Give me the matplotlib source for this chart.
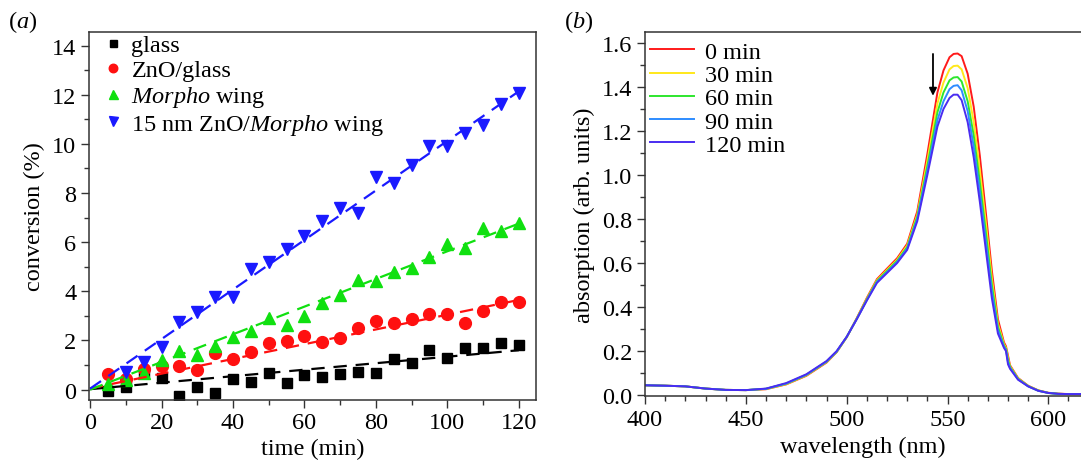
import matplotlib
matplotlib.use("Agg")
import matplotlib.pyplot as plt
import numpy as np
from matplotlib.ticker import MultipleLocator

plt.rcParams['font.family'] = ['Liberation Serif', 'DejaVu Serif']
plt.rcParams['mathtext.fontset'] = 'custom'
plt.rcParams['mathtext.rm'] = 'Liberation Serif'
plt.rcParams['mathtext.it'] = 'Liberation Serif:italic'

# ---------------- panel (a) data ----------------
t_all = [5, 10, 15, 20, 25, 30, 35, 40, 45, 50, 55, 60, 65, 70, 75, 80, 85, 90,
         95, 100, 105, 110, 115, 120]
glass = [-0.04, 0.10, 0.70, 0.47, -0.24, 0.10, -0.13, 0.43, 0.30, 0.68, 0.26, 0.61,
         0.50, 0.64, 0.73, 0.68, 1.25, 1.09, 1.61, 1.27, 1.69, 1.69, 1.88, 1.80]
zno_glass = [0.62, 0.45, 0.84, 0.98, 0.98, 0.81, 1.48, 1.25, 1.52, 1.88, 1.99, 2.17,
             1.95, 2.10, 2.49, 2.81, 2.71, 2.87, 3.08, 3.08, 2.70, 3.21, 3.58, 3.55]
morpho = [0.23, 0.40, 0.69, 1.21, 1.59, 1.41, 1.79, 2.15, 2.37, 2.91, 2.63, 2.98,
          3.51, 3.85, 4.46, 4.43, 4.77, 4.93, 5.38, 5.92, 5.75, 6.56, 6.46, 6.80]
t_blue = [10, 15, 20, 25, 30, 35, 40, 45, 50, 55, 60, 65, 70, 75, 80, 85, 90,
          95, 100, 105, 110, 115, 120]
zno_morpho = [0.70, 1.11, 1.72, 2.74, 3.17, 3.78, 3.78, 4.91, 5.18, 5.72, 6.26, 6.87,
              7.41, 7.18, 8.67, 8.40, 9.15, 9.92, 9.92, 10.46, 10.76, 11.64, 12.06]

series_labels = ['glass', 'ZnO/glass', r'$\it{Morpho}$ wing', r'15 nm ZnO/$\it{Morpho}$ wing']
fit_intercept = [0.02, 0.05, 0.00, 0.04]
fit_slope = [0.0132, 0.0300, 0.0563, 0.1008]
fit_range = [0, 120]

# ---------------- panel (b) data ----------------
wl = [400, 410, 420, 430, 440, 450, 460, 470, 480, 490, 495, 500, 505, 510, 515,
      520, 525, 530, 535, 540, 545, 548, 551, 553, 555, 557, 560, 563, 566, 569,
      572, 575, 578, 579, 580, 581, 585, 590, 595, 600, 605, 610, 617]
abs_0 = [0.045, 0.043, 0.040, 0.030, 0.024, 0.023, 0.027, 0.049, 0.088, 0.148, 0.195,
         0.263, 0.350, 0.442, 0.527, 0.575, 0.622, 0.688, 0.835, 1.095, 1.375, 1.475,
         1.535, 1.550, 1.552, 1.540, 1.460, 1.310, 1.090, 0.830, 0.565, 0.345, 0.240,
         0.222, 0.180, 0.136, 0.078, 0.043, 0.022, 0.011, 0.007, 0.005, 0.005]
abs_30 = [0.045, 0.043, 0.040, 0.030, 0.024, 0.023, 0.028, 0.050, 0.090, 0.150, 0.196,
          0.264, 0.348, 0.438, 0.522, 0.569, 0.615, 0.680, 0.820, 1.065, 1.325, 1.420,
          1.480, 1.495, 1.497, 1.480, 1.395, 1.240, 1.025, 0.785, 0.530, 0.325, 0.232,
          0.215, 0.170, 0.132, 0.076, 0.042, 0.021, 0.010, 0.006, 0.005, 0.005]
abs_60 = [0.045, 0.043, 0.040, 0.030, 0.024, 0.023, 0.029, 0.052, 0.092, 0.152, 0.197,
          0.264, 0.347, 0.435, 0.518, 0.564, 0.610, 0.672, 0.810, 1.040, 1.285, 1.375,
          1.430, 1.443, 1.445, 1.425, 1.335, 1.180, 0.970, 0.740, 0.500, 0.310, 0.225,
          0.210, 0.160, 0.128, 0.074, 0.041, 0.021, 0.010, 0.006, 0.005, 0.005]
abs_90 = [0.045, 0.043, 0.040, 0.030, 0.024, 0.023, 0.029, 0.053, 0.093, 0.153, 0.198,
          0.265, 0.346, 0.432, 0.514, 0.559, 0.605, 0.666, 0.800, 1.020, 1.250, 1.335,
          1.390, 1.405, 1.408, 1.385, 1.290, 1.130, 0.925, 0.700, 0.470, 0.295, 0.220,
          0.205, 0.150, 0.124, 0.072, 0.040, 0.020, 0.010, 0.006, 0.005, 0.005]
abs_120 = [0.045, 0.043, 0.040, 0.030, 0.024, 0.023, 0.030, 0.055, 0.095, 0.155, 0.200,
           0.265, 0.345, 0.430, 0.510, 0.555, 0.600, 0.660, 0.790, 1.000, 1.220, 1.300,
           1.350, 1.365, 1.365, 1.340, 1.240, 1.080, 0.880, 0.660, 0.440, 0.280, 0.215,
           0.200, 0.140, 0.120, 0.070, 0.040, 0.020, 0.010, 0.006, 0.005, 0.005]
spec_labels = ['0 min', '30 min', '60 min', '90 min', '120 min']
spec_colors = ['#ff1a1a', '#ffe81a', '#2ee62e', '#2e8cff', '#4a2cf0']
arrow_x = 542.8
arrow_y = [1.55, 1.36]

# ---------------- figure ----------------
fig = plt.figure(figsize=(10.81, 4.64), dpi=100)
FS = 17.5
axis_col = '#333333'

def style(ax):
    for s in ax.spines.values():
        s.set_color(axis_col)
        s.set_linewidth(1.1)
    ax.tick_params(which='both', direction='out', colors=axis_col, labelcolor='black',
                   labelsize=FS, top=False, right=False, pad=3)
    ax.tick_params(which='major', length=6, width=1.0)
    ax.tick_params(which='minor', length=3.5, width=1.0)

# panel (a)
ax1 = fig.add_axes([0.0823, 0.1358, 0.4135, 0.7931])
style(ax1)
mk = dict(linestyle='none')
ax1.plot(t_all, glass, marker='s', color='black', ms=7, label=series_labels[0], **mk)
ax1.plot(t_all, zno_glass, marker='o', color='#ff1010', ms=8.5, label=series_labels[1], **mk)
ax1.plot(t_all, morpho, marker='^', color='#10e010', ms=9, label=series_labels[2], **mk)
ax1.plot(t_blue, zno_morpho, marker='v', color='#1a1aff', ms=9, label=series_labels[3], **mk)
fit_cols = ['black', '#ff1010', '#10e010', '#1a1aff']
tt = np.array(fit_range, dtype=float)
for b, m, c in zip(fit_intercept, fit_slope, fit_cols):
    ax1.plot(tt, b + m * tt, color=c, lw=1.6, dashes=(6, 4))
ax1.set_xlim(-0.3, 124.8)
ax1.set_ylim(-0.42, 14.55)
ax1.xaxis.set_major_locator(MultipleLocator(20))
ax1.xaxis.set_minor_locator(MultipleLocator(10))
ax1.yaxis.set_major_locator(MultipleLocator(2))
ax1.yaxis.set_minor_locator(MultipleLocator(1))
ax1.set_xlabel('time (min)', fontsize=FS, labelpad=3)
ax1.set_ylabel('conversion (%)', fontsize=FS, labelpad=5)
ax1.legend(loc='upper left', bbox_to_anchor=(0.027, 1.004), frameon=False, fontsize=FS,
           handlelength=0.7, handletextpad=0.4, labelspacing=0.12, borderaxespad=0.1,
           borderpad=0.05, markerscale=0.72)
fig.text(0.007, 0.94, r'($\it{a}$)', fontsize=FS)

# panel (b)
ax2 = fig.add_axes([0.5967, 0.1438, 0.4033, 0.7857])
style(ax2)
ax2.spines['right'].set_visible(False)
for y, lab, col in zip([abs_0, abs_30, abs_60, abs_90, abs_120], spec_labels, spec_colors):
    ax2.plot(wl, y, color=col, lw=1.4, label=lab)
ax2.annotate('', xy=(arrow_x, arrow_y[1]), xytext=(arrow_x, arrow_y[0]),
             arrowprops=dict(arrowstyle='-|>', color='black', lw=1.3,
                             mutation_scale=11, shrinkA=0, shrinkB=0))
ax2.set_xlim(400, 616.2)
ax2.set_ylim(-0.005, 1.651)
ax2.xaxis.set_major_locator(MultipleLocator(50))
ax2.xaxis.set_minor_locator(MultipleLocator(10))
ax2.yaxis.set_major_locator(MultipleLocator(0.2))
ax2.yaxis.set_minor_locator(MultipleLocator(0.1))
ax2.yaxis.set_major_formatter(matplotlib.ticker.FormatStrFormatter('%.1f'))
ax2.set_xlabel('wavelength (nm)', fontsize=FS, labelpad=4)
ax2.set_ylabel('absorption (arb. units)', fontsize=FS, labelpad=5)
ax2.legend(loc='upper left', bbox_to_anchor=(0.0, 0.988), frameon=False, fontsize=FS,
           handlelength=1.8, handletextpad=0.45, labelspacing=0.05, borderaxespad=0.1,
           borderpad=0.1)
fig.text(0.522, 0.94, r'($\it{b}$)', fontsize=FS)

fig.savefig('out.png', dpi=100)
